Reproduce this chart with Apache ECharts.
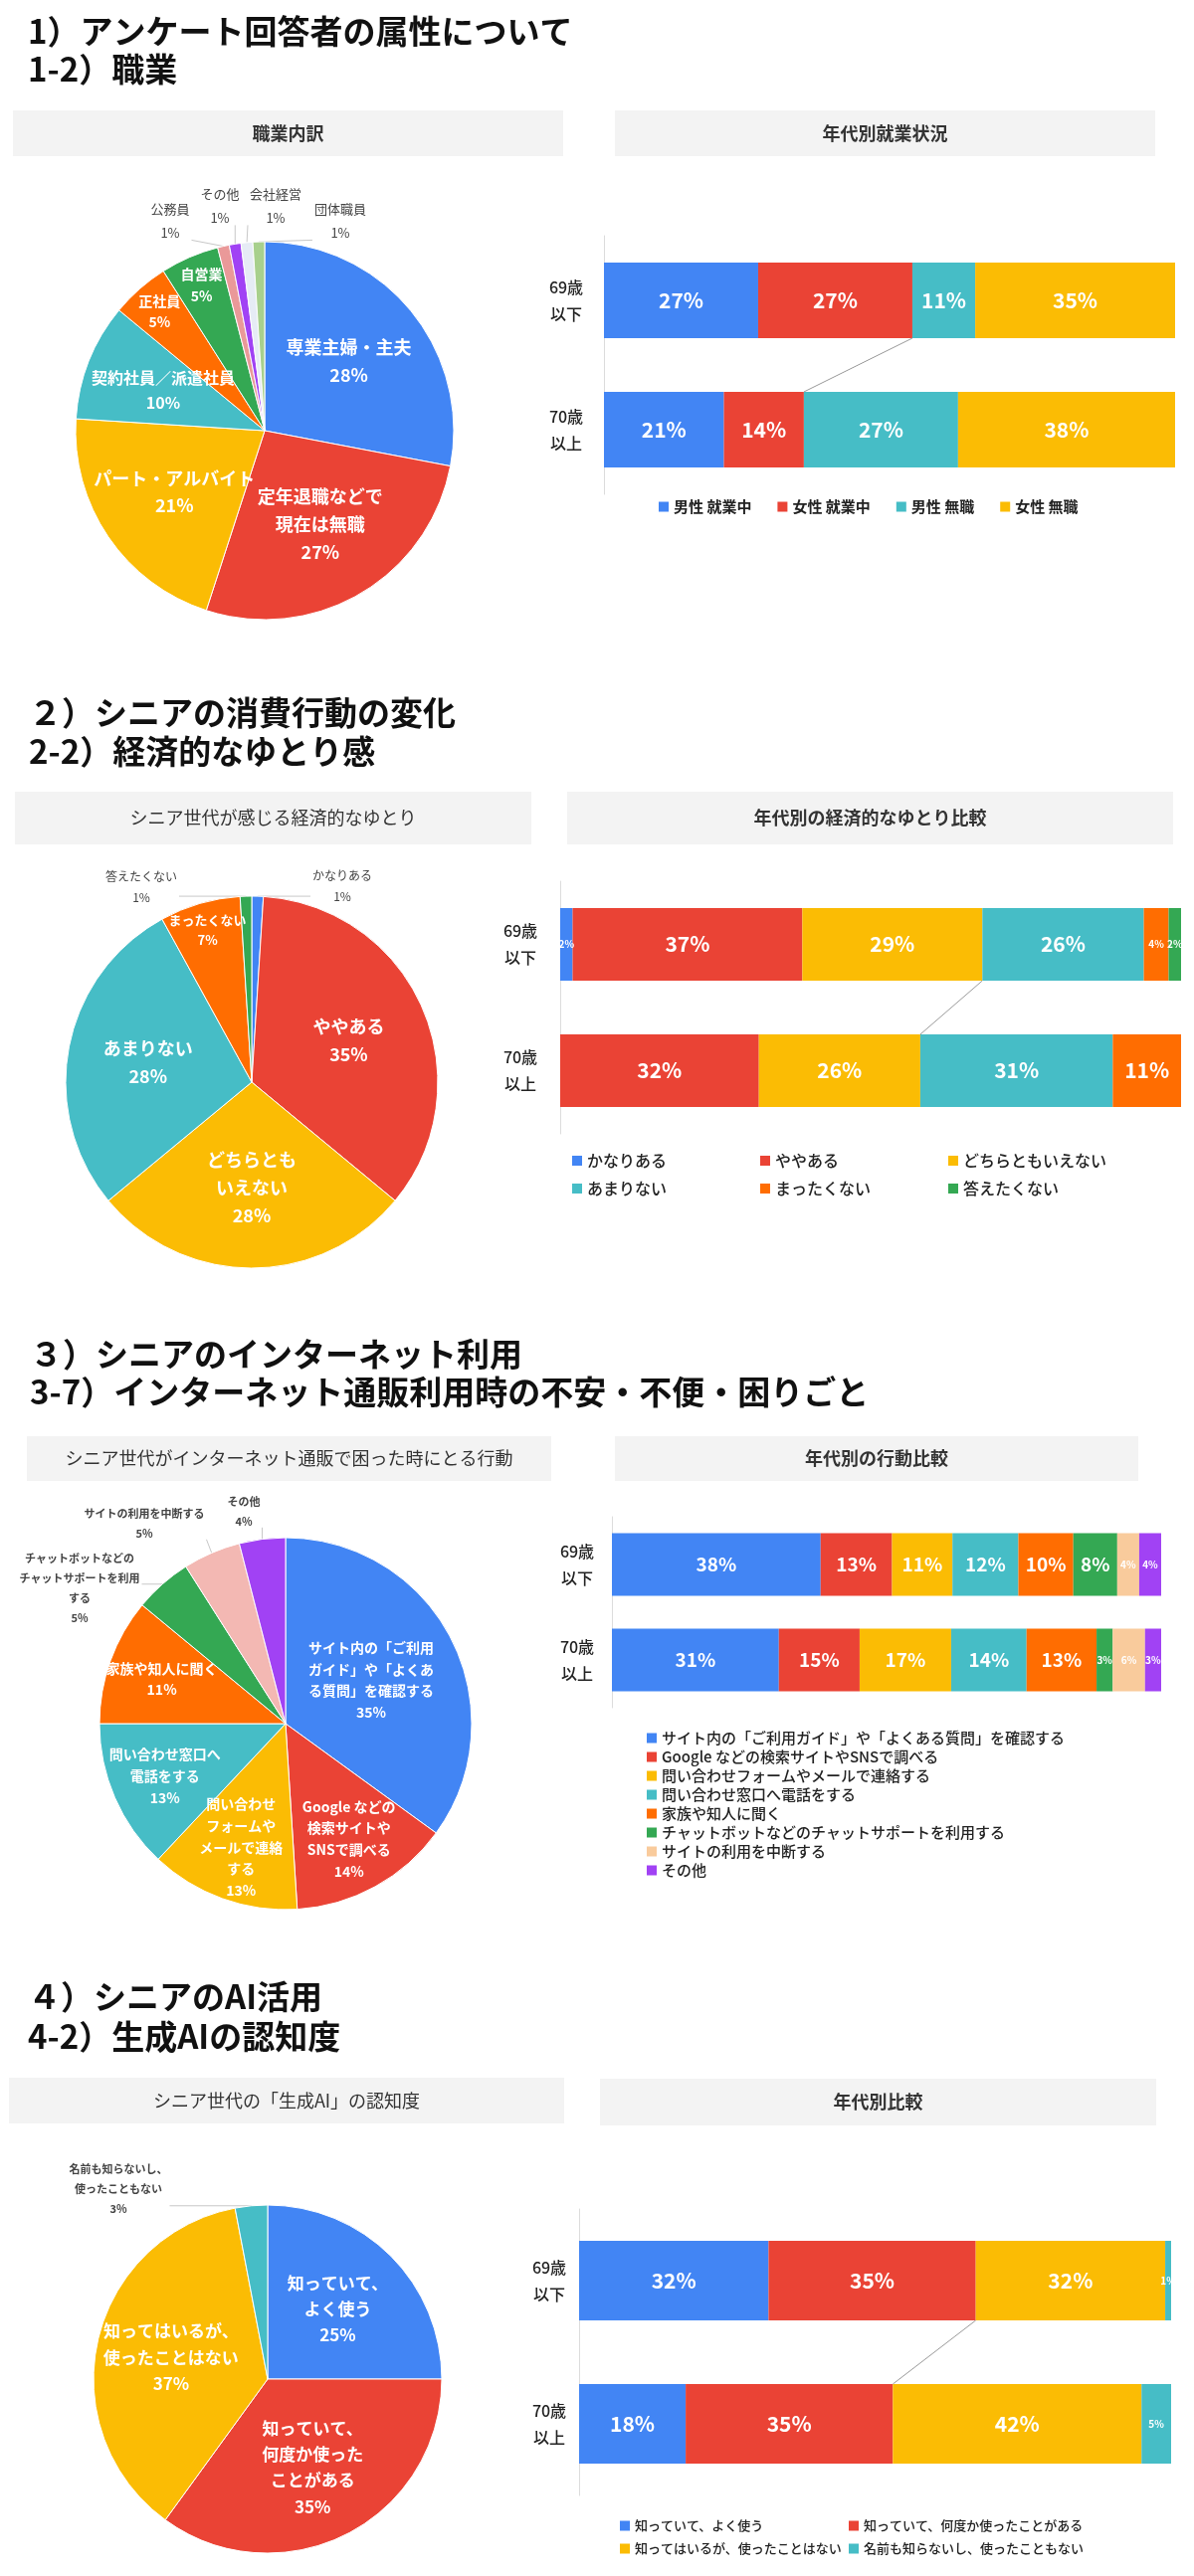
<!DOCTYPE html>
<html><head><meta charset="utf-8">
<script src="https://cdn.jsdelivr.net/npm/echarts@6/dist/echarts.min.js"></script>
<style>html,body{margin:0;padding:0;background:#fff}#c{width:1200px;height:2590px}</style>
</head><body><div id="c"></div>
<script>
// ---------- DATA ----------
const ageCats = ['69歳\n以下', '70歳\n以上'];

const s1Titles = ['1）アンケート回答者の属性について', '1-2）職業'];
const s1BoxA = '職業内訳';
const s1BoxB = '年代別就業状況';
const s1PieNames = ['専業主婦・主夫', '定年退職などで\n現在は無職', 'パート・アルバイト', '契約社員／派遣社員', '正社員', '自営業', '公務員', 'その他', '会社経営', '団体職員'];
const s1PieValues = [28, 27, 21, 10, 5, 5, 1, 1, 1, 1];
const s1BarNames = ['男性 就業中', '女性 就業中', '男性 無職', '女性 無職'];
const s1Bar69 = [27, 27, 11, 35];
const s1Bar70 = [21, 14, 27, 38];

const s2Titles = ['２）シニアの消費行動の変化', '2-2）経済的なゆとり感'];
const s2BoxA = 'シニア世代が感じる経済的なゆとり';
const s2BoxB = '年代別の経済的なゆとり比較';
const s2PieNames = ['かなりある', 'ややある', 'どちらとも\nいえない', 'あまりない', 'まったくない', '答えたくない'];
const s2PieValues = [1, 35, 28, 28, 7, 1];
const s2BarNames = ['かなりある', 'ややある', 'どちらともいえない', 'あまりない', 'まったくない', '答えたくない'];
const s2Bar69 = [2, 37, 29, 26, 4, 2];
const s2Bar70 = [0, 32, 26, 31, 11, 0];

const s3Titles = ['３）シニアのインターネット利用', '3-7）インターネット通販利用時の不安・不便・困りごと'];
const s3BoxA = 'シニア世代がインターネット通販で困った時にとる行動';
const s3BoxB = '年代別の行動比較';
const s3PieNames = ['サイト内の「ご利用\nガイド」や「よくあ\nる質問」を確認する', 'Google などの\n検索サイトや\nSNSで調べる', '問い合わせ\nフォームや\nメールで連絡\nする', '問い合わせ窓口へ\n電話をする', '家族や知人に聞く', 'チャットボットなどの\nチャットサポートを利用\nする', 'サイトの利用を中断する', 'その他'];
const s3PieValues = [35, 14, 13, 13, 11, 5, 5, 4];
const s3BarNames = ['サイト内の「ご利用ガイド」や「よくある質問」を確認する', 'Google などの検索サイトやSNSで調べる', '問い合わせフォームやメールで連絡する', '問い合わせ窓口へ電話をする', '家族や知人に聞く', 'チャットボットなどのチャットサポートを利用する', 'サイトの利用を中断する', 'その他'];
const s3Bar69 = [38, 13, 11, 12, 10, 8, 4, 4];
const s3Bar70 = [31, 15, 17, 14, 13, 3, 6, 3];

const s4Titles = ['４）シニアのAI活用', '4-2）生成AIの認知度'];
const s4BoxA = 'シニア世代の「生成AI」の認知度';
const s4BoxB = '年代別比較';
const s4PieNames = ['知っていて、\nよく使う', '知っていて、\n何度か使った\nことがある', '知ってはいるが、\n使ったことはない', '名前も知らないし、\n使ったこともない'];
const s4PieValues = [25, 35, 37, 3];
const s4BarNames = ['知っていて、よく使う', '知っていて、何度か使ったことがある', '知ってはいるが、使ったことはない', '名前も知らないし、使ったこともない'];
const s4Bar69 = [32, 35, 32, 1];
const s4Bar70 = [18, 35, 42, 5];

// ---------- STYLE ----------
const FONT = "'Noto Sans CJK JP','Noto Sans',sans-serif";
const C = {blue:'#4285F4', red:'#EA4335', yellow:'#FBBC04', teal:'#46BDC6', orange:'#FF6D01', green:'#34A853',
  pink:'#EA9999', purple:'#A142F4', pale:'#E6ECF5', lgreen:'#A8D08D', salmon:'#F3B8B3', peach:'#F9CB9C'};
const s1PieColors = [C.blue, C.red, C.yellow, C.teal, C.orange, C.green, C.pink, C.purple, C.pale, C.lgreen];
const s1BarColors = [C.blue, C.red, C.teal, C.yellow];
const s2Colors = [C.blue, C.red, C.yellow, C.teal, C.orange, C.green];
const s3PieColors = [C.blue, C.red, C.yellow, C.teal, C.orange, C.green, C.salmon, C.purple];
const s3BarColors = [C.blue, C.red, C.yellow, C.teal, C.orange, C.green, C.peach, C.purple];
const s4Colors = [C.blue, C.red, C.yellow, C.teal];

const graphics = [];
function addHeader(titles, tx, ty, boxA, boxB) {
  titles.forEach((t, i) => graphics.push({type:'text', style:{text:t, x:tx, y:ty[i], font:'bold 33px ' + FONT, fill:'#111', align:'left', verticalAlign:'middle', textAlign:'left', textVerticalAlign:'middle'}}));
  [boxA, boxB].forEach(b => {
    graphics.push({type:'rect', shape:{x:b.x, y:b.y, width:b.w, height:b.h}, style:{fill:'#f3f3f3'}, z:-1});
    graphics.push({type:'text', style:{text:b.t, x:b.x + b.w/2, y:b.y + b.h/2, font:(b.bold?'bold ':'') + '18px ' + FONT, fill:'#333', align:'center', verticalAlign:'middle', textAlign:'center', textVerticalAlign:'middle'}});
  });
}

addHeader(s1Titles, 28, [31, 69], {x:13,y:111,w:553,h:46,t:s1BoxA,bold:true}, {x:618,y:111,w:543,h:46,t:s1BoxB,bold:true});
addHeader(s2Titles, 29, [716, 755], {x:15,y:796,w:519,h:53,t:s2BoxA}, {x:570,y:796,w:609,h:53,t:s2BoxB,bold:true});
addHeader(s3Titles, 30, [1361, 1399], {x:27,y:1444,w:527,h:45,t:s3BoxA}, {x:618,y:1444,w:526,h:45,t:s3BoxB,bold:true});
addHeader(s4Titles, 28, [2007, 2047], {x:9,y:2089,w:558,h:46,t:s4BoxA}, {x:603,y:2090,w:559,h:47,t:s4BoxB,bold:true});

// ---------- PIES ----------
function pieSeries(names, values, colors, cx, cy, r, insideFont, radialK, outside, outFont, outWeight) {
  return {
    type:'pie', center:[cx, cy], radius:[0, r], startAngle:90, clockwise:true, avoidLabelOverlap:false,
    itemStyle:{borderColor:'#fff', borderWidth:1},
    label:{formatter:'{b}\n{c}%', fontFamily:FONT},
    data: names.map((n, i) => {
      const off = outside[i];
      const fs = insideFont(values[i]);
      return {
        name:n, value:values[i], itemStyle:{color:colors[i]},
        label: off ? {position:'outside', fontSize:outFont, color:'#444', fontWeight:outWeight, lineHeight:outFont*1.8, align:'center'}
                   : {position:'inside', fontSize:fs, color:'#fff', fontWeight:'bold', lineHeight:fs*1.55},
        labelLine: off ? {show:true, length:8, length2:4, lineStyle:{color:'#c8c8c8', width:1}} : {show:false}
      };
    }),
    labelLayout: function (p) {
      const off = outside[p.dataIndex];
      const rc = p.labelRect;
      if (!off) {
        // push inside labels outward along their own radius
        const k = radialK(values[p.dataIndex]);
        const lx = rc.x + rc.width/2, ly = rc.y + rc.height/2;
        return {x:cx + (lx - cx)*k, y:cy + (ly - cy)*k, align:'center', verticalAlign:'middle'};
      }
      const x = cx + off[0], y = cy + off[1];
      const w = rc.width, h = rc.height;
      const res = {x:x, y:y, align:'center', verticalAlign:'middle'};
      if (p.labelLinePoints && p.labelLinePoints[0]) {
        const p0 = p.labelLinePoints[0];
        const ex = Math.min(Math.max(p0[0], x - w/2 - 2), x + w/2 + 2);
        const ey = Math.min(Math.max(p0[1], y - h/2 + 4), y + h/2 - 4);
        res.labelLinePoints = [p0, [ex, ey], [ex, ey]];
      }
      return res;
    }
  };
}

const series = [];
series.push(pieSeries(s1PieNames, s1PieValues, s1PieColors, 266, 433, 190,
  v => v >= 20 ? 18 : (v >= 10 ? 16 : 14), v => v >= 10 ? 1.12 : 1.63,
  {6:[-95,-211], 7:[-45,-226], 8:[11,-226], 9:[76,-211]}, 13, 'normal'));
series.push(pieSeries(s2PieNames, s2PieValues, s2Colors, 253, 1088, 187,
  v => v >= 20 ? 18 : 13, v => v >= 20 ? 1.1 : 1.65,
  {0:[91,-197], 5:[-111,-196]}, 12, 'normal'));
series.push(pieSeries(s3PieNames, s3PieValues, s3PieColors, 287, 1733, 187,
  v => 14, v => v >= 20 ? 1.0 : 1.37,
  {5:[-207,-136], 6:[-142,-201], 7:[-42,-213]}, 11, 'bold'));
series.push(pieSeries(s4PieNames, s4PieValues, s4Colors, 269, 2392, 175,
  v => 17, v => 1.1,
  {3:[-150,-191]}, 11, 'bold'));

// ---------- BARS ----------
const grids = [], xAxes = [], yAxes = [], legends = [];
function norm(row) { const s = row.reduce((a, b) => a + b, 0); return row.map(v => v / s * 100); }

function barChart(idx, names, r69, r70, colors, g, barW, margin, labelBig, connectK) {
  grids.push({left:g.left, right:g.right, top:g.top, height:g.height});
  xAxes.push({type:'value', gridIndex:idx, min:0, max:100, show:false});
  yAxes.push({type:'category', gridIndex:idx, data:ageCats, inverse:true,
    axisLine:{show:true, lineStyle:{color:'#dcdcdc'}}, axisTick:{show:false},
    axisLabel:{align:'center', margin:margin, fontSize:16, lineHeight:27, color:'#222', fontWeight:500, fontFamily:FONT}});
  const n69 = norm(r69), n70 = norm(r70);
  names.forEach((nm, i) => {
    series.push({type:'bar', name:nm, stack:'st' + idx, xAxisIndex:idx, yAxisIndex:idx, barWidth:barW,
      itemStyle:{color:colors[i]},
      label:{show:true, position:'inside', color:'#fff', fontWeight:'bold', fontFamily:FONT},
      data:[r69[i], r70[i]].map((raw, j) => ({value:[n69, n70][j][i],
        label:{show:raw > 0, fontSize:raw <= 6 ? 10 : labelBig, formatter: raw + '%'}}))
    });
  });
  if (connectK != null) {
    const a = n69.slice(0, connectK + 1).reduce((s, v) => s + v, 0);
    const b = n70.slice(0, connectK + 1).reduce((s, v) => s + v, 0);
    series.push({type:'custom', xAxisIndex:idx, yAxisIndex:idx, coordinateSystem:'cartesian2d', silent:true, z:5,
      encode:{x:[0, 2], y:[1, 3]}, data:[[a, 0, b, 1]],
      renderItem: function (params, api) {
        const p1 = api.coord([api.value(0), 0]);
        const p2 = api.coord([api.value(2), 1]);
        return {type:'line', shape:{x1:p1[0], y1:p1[1] + barW/2, x2:p2[0], y2:p2[1] - barW/2}, style:{stroke:'#9a9a9a', lineWidth:1}};
      }
    });
  }
}

barChart(0, s1BarNames, s1Bar69, s1Bar70, s1BarColors, {left:607, right:19, top:237, height:260}, 76, 38, 21, 1);
barChart(1, s2BarNames, s2Bar69, s2Bar70, s2Colors, {left:563, right:13, top:886, height:254}, 73, 40, 21, 2);
barChart(2, s3BarNames, s3Bar69, s3Bar70, s3BarColors, {left:615, right:33, top:1525, height:192}, 63, 35, 19, null);
barChart(3, s4BarNames, s4Bar69, s4Bar70, s4Colors, {left:582, right:23, top:2221, height:288}, 80, 30, 21, 1);

const lgBase = {icon:'rect', itemWidth:10, itemHeight:10, selectedMode:false};
legends.push(Object.assign({}, lgBase, {data:s1BarNames, left:657, top:497, itemGap:26,
  textStyle:{fontSize:15, fontWeight:'bold', color:'#222', fontFamily:FONT}}));
// section 2: three columns of two rows
[[0, 3], [1, 4], [2, 5]].forEach((col, ci) => legends.push(Object.assign({}, lgBase, {
  data:col.map(k => s2BarNames[k]), orient:'vertical', left:570 + ci*189, top:1154, itemGap:12,
  textStyle:{fontSize:16, lineHeight:16, color:'#222', fontWeight:500, fontFamily:FONT}})));
legends.push(Object.assign({}, lgBase, {data:s3BarNames, orient:'vertical', left:645, top:1735, itemGap:4,
  textStyle:{fontSize:15, lineHeight:15, color:'#222', fontWeight:500, fontFamily:FONT}}));
// section 4: two columns of two rows
[[0, 2], [1, 3]].forEach((col, ci) => legends.push(Object.assign({}, lgBase, {
  data:col.map(k => s4BarNames[k]), orient:'vertical', left:618 + ci*230, top:2528, itemGap:10,
  textStyle:{fontSize:13, lineHeight:13, color:'#222', fontWeight:500, fontFamily:FONT}})));

const chart = echarts.init(document.getElementById('c'), null, {renderer:'canvas'});
chart.setOption({
  backgroundColor:'#fff', animation:false, textStyle:{fontFamily:FONT},
  graphic:{elements:graphics},
  grid:grids, xAxis:xAxes, yAxis:yAxes, legend:legends, series:series
});
</script></body></html>
